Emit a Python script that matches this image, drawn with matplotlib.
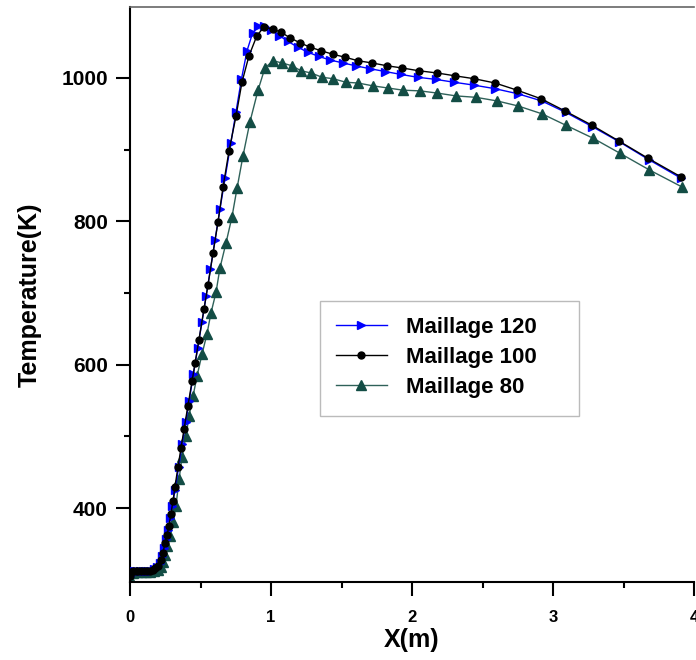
import matplotlib
matplotlib.use("Agg")
import matplotlib.pyplot as plt
from matplotlib.ticker import FixedLocator
from matplotlib.patches import Rectangle

plt.rcParams['font.family'] = ['Liberation Sans', 'DejaVu Sans']
plt.rcParams['font.weight'] = 'bold'

# Maillage 120
x_120 = [0, 0.01, 0.02, 0.035, 0.05, 0.07, 0.09, 0.11, 0.13, 0.15, 0.17, 0.19, 0.21, 0.225, 0.24,
         0.255, 0.27, 0.285, 0.3, 0.32, 0.345, 0.37, 0.395, 0.42, 0.45, 0.48, 0.51, 0.54, 0.57,
         0.603, 0.638, 0.674, 0.716, 0.752, 0.79, 0.83, 0.87, 0.91, 0.95, 1.0, 1.06, 1.12, 1.19,
         1.26, 1.34, 1.42, 1.51, 1.6, 1.7, 1.81, 1.92, 2.04, 2.17, 2.3, 2.44, 2.59, 2.75, 2.92,
         3.09, 3.28, 3.47, 3.68, 3.91]
T_120 = [305, 311, 313, 313, 313, 313, 313, 313, 313, 313, 315, 318, 324, 333, 345,
         357, 370, 386, 403, 426, 457, 489, 520, 550, 587, 623, 659, 696, 733,
         774, 817, 860, 910, 953, 998, 1038, 1063, 1072, 1073, 1067, 1059, 1051, 1043,
         1036, 1030, 1025, 1021, 1017, 1013, 1009, 1005, 1001, 998, 994, 990, 985, 978, 968,
         952, 932, 911, 886, 860]

# Maillage 100
x_100 = [0, 0.01, 0.02, 0.04, 0.06, 0.08, 0.1, 0.12, 0.14, 0.16, 0.18, 0.2, 0.22, 0.234, 0.248,
         0.262, 0.276, 0.29, 0.305, 0.319, 0.34, 0.362, 0.383, 0.411, 0.44, 0.461, 0.489, 0.525,
         0.553, 0.589, 0.624, 0.66, 0.702, 0.752, 0.794, 0.844, 0.9, 0.95, 1.014, 1.07, 1.135,
         1.206, 1.277, 1.355, 1.44, 1.525, 1.617, 1.716, 1.823, 1.929, 2.05, 2.177, 2.305, 2.44,
         2.589, 2.745, 2.915, 3.085, 3.277, 3.468, 3.674, 3.908]
T_100 = [305, 311, 313, 313, 313, 313, 313, 313, 313, 314, 316, 320, 327, 338, 351,
         362, 375, 392, 410, 430, 457, 484, 510, 543, 577, 602, 635, 678,
         711, 756, 799, 848, 898, 947, 994, 1031, 1059, 1071, 1068, 1064, 1056,
         1049, 1043, 1038, 1033, 1029, 1024, 1021, 1017, 1014, 1010, 1007, 1003, 999,
         993, 983, 971, 954, 934, 912, 888, 862]

# Maillage 80
x_80 = [0, 0.02, 0.05, 0.08, 0.11, 0.14, 0.17, 0.2, 0.22, 0.234, 0.248, 0.262, 0.284, 0.305,
        0.326, 0.348, 0.369, 0.397, 0.418, 0.447, 0.475, 0.511, 0.546, 0.574, 0.61, 0.638, 0.681,
        0.723, 0.759, 0.801, 0.851, 0.908, 0.957, 1.014, 1.078, 1.149, 1.213, 1.284, 1.362, 1.44,
        1.532, 1.617, 1.723, 1.83, 1.936, 2.057, 2.177, 2.312, 2.454, 2.603, 2.752, 2.922, 3.092,
        3.284, 3.475, 3.681, 3.915]
T_80 = [303, 309, 311, 311, 311, 311, 312, 314, 318, 325, 334, 347, 361, 380,
        403, 440, 472, 500, 528, 556, 584, 615, 643, 672, 701, 735, 770,
        806, 846, 891, 939, 983, 1014, 1024, 1021, 1017, 1010, 1007, 1001, 999,
        994, 993, 989, 986, 983, 982, 979, 975, 973, 968, 961, 950, 934,
        916, 895, 872, 848]

labels = ["Maillage 120", "Maillage 100", "Maillage 80"]
green = '#134d45'
green_line = '#2f6159'

fig = plt.figure(figsize=(6.96, 6.6), dpi=100)
ax = fig.add_axes([130/696, 1 - 582/660, 564/696, 575/660])

ax.plot(x_120, T_120, color='#0000ff', lw=1.0, marker='>', ms=5.5, mfc='#0000ff', mec='#0000ff',
        label=labels[0], zorder=3)
ax.plot(x_100, T_100, color='black', lw=1.0, marker='o', ms=5.0, mfc='black', mec='black',
        label=labels[1], zorder=4)
ax.plot(x_80, T_80, color=green_line, lw=1.0, marker='^', ms=7, mfc=green, mec=green,
        label=labels[2], zorder=2)

ax.set_xlim(0, 4.0)
ax.set_ylim(297, 1099)
ax.xaxis.set_major_locator(FixedLocator([0, 1, 2, 3, 4]))
ax.xaxis.set_minor_locator(FixedLocator([0.5, 1.5, 2.5, 3.5]))
ax.yaxis.set_major_locator(FixedLocator([400, 600, 800, 1000]))
ax.yaxis.set_minor_locator(FixedLocator([500, 700, 900]))

ax.tick_params(axis='both', which='major', direction='out', length=10, width=1.5, pad=6)
ax.tick_params(axis='both', which='minor', direction='out', length=4, width=1.5)
ax.tick_params(axis='y', which='major', labelsize=15)
ax.tick_params(axis='x', which='major', labelsize=12, pad=10)
for lab in ax.get_xticklabels() + ax.get_yticklabels():
    lab.set_fontweight('bold')

ax.spines['left'].set_linewidth(1.5)
ax.spines['bottom'].set_linewidth(1.5)
ax.spines['top'].set_linewidth(1.2)
ax.spines['top'].set_color('#666666')
ax.spines['right'].set_visible(False)

ax.set_xlabel('X(m)', fontsize=18, fontweight='bold', labelpad=2)
ax.set_ylabel('Temperature(K)', fontsize=18, fontweight='bold', labelpad=14)

# legend frame drawn separately (reference box is wider than its contents)
frame = Rectangle((320/696, 1 - 416/660), 259/696, 115/660, transform=fig.transFigure,
                  facecolor='white', edgecolor='#bbbbbb', lw=1.0, zorder=5, clip_on=False)
ax.add_patch(frame)

leg = ax.legend(loc='upper left', bbox_to_anchor=(320/696, 1 - 301/660),
                bbox_transform=fig.transFigure,
                fontsize=16, frameon=False,
                handlelength=2.3, borderpad=0.7, labelspacing=0.42, handletextpad=0.85,
                borderaxespad=0)
leg.set_zorder(6)
for t in leg.get_texts():
    t.set_fontweight('bold')

fig.savefig('out.png', dpi=100)
